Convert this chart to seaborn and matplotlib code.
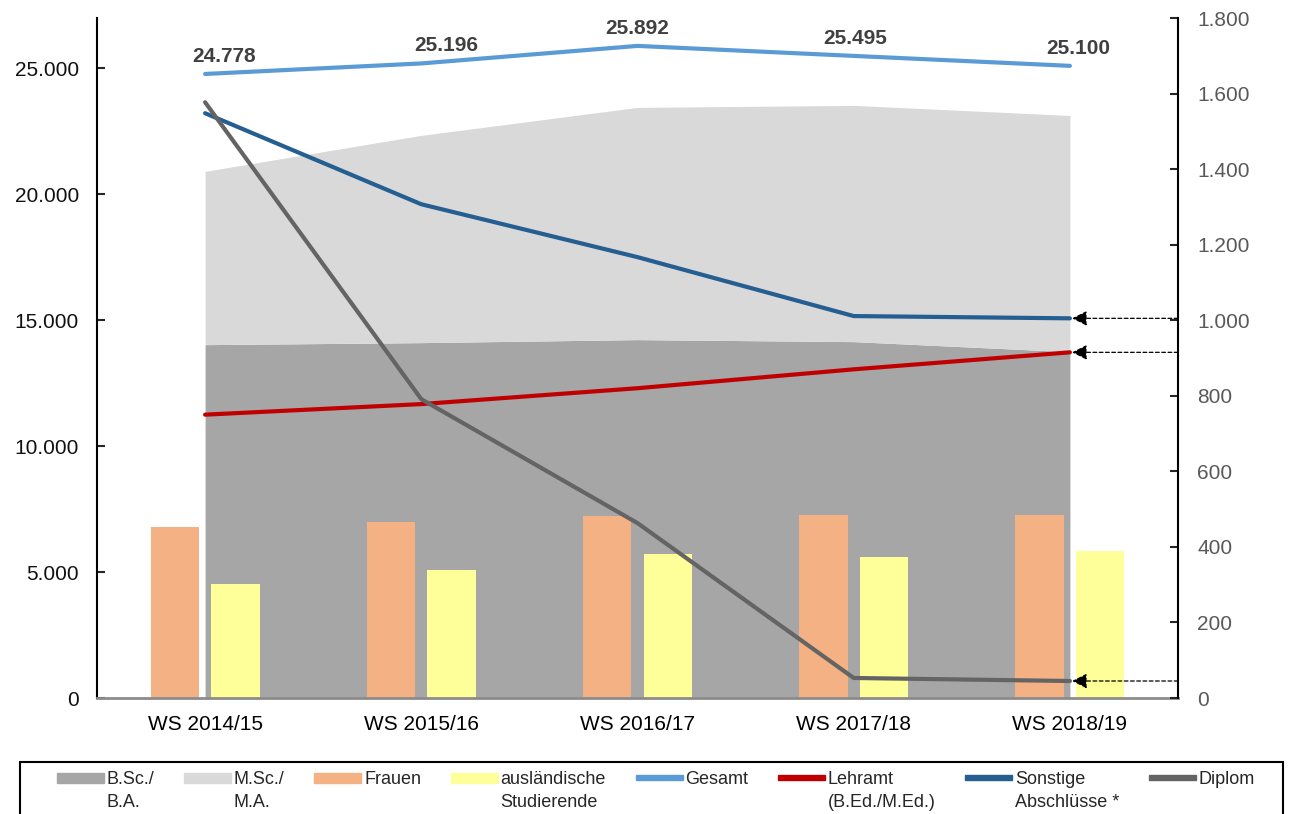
import pandas as pd
import matplotlib.pyplot as plt
import matplotlib.ticker as mticker
from matplotlib.patches import Patch, Rectangle
from matplotlib.legend_handler import HandlerPatch
import seaborn as sns

# data
semester = ['WS 2014/15', 'WS 2015/16', 'WS 2016/17', 'WS 2017/18', 'WS 2018/19']
bsc_ba = [14030, 14110, 14230, 14150, 13750]
msc_ma = [6880, 8230, 9220, 9380, 9380]
frauen = [6800, 7000, 7230, 7270, 7270]
auslaendisch = [4530, 5090, 5720, 5600, 5840]
gesamt = [24778, 25196, 25892, 25495, 25100]
# right axis
lehramt = [750, 778, 820, 870, 915]
sonstige = [1548, 1307, 1167, 1011, 1005]
diplom = [1577, 791, 463, 53, 45]

c_bsc = '#A6A6A6'
c_msc = '#D9D9D9'
c_frauen = '#F4B183'
c_ausl = '#FFFF99'
c_gesamt = '#5B9BD5'
c_lehramt = '#C00000'
c_sonst = '#255E91'
c_diplom = '#646464'

sns.set_style('white')
plt.rcParams['font.family'] = ['Liberation Sans', 'DejaVu Sans']

fig = plt.figure(figsize=(12.93, 8.14), dpi=100)
ax = fig.add_axes([97 / 1293, 1 - 698 / 814, (1178 - 97) / 1293, (698 - 18) / 814])

x = list(range(len(semester)))

# stacked areas
ax.stackplot(x, bsc_ba, msc_ma, colors=[c_bsc, c_msc], linewidth=0, zorder=1)

# bars
bars = pd.DataFrame({
    'Semester': semester * 2,
    'Wert': frauen + auslaendisch,
    'Gruppe': ['Frauen'] * 5 + ['ausländische Studierende'] * 5,
})
sns.barplot(data=bars, x='Semester', y='Wert', hue='Gruppe', order=semester,
            palette=[c_frauen, c_ausl], width=0.56, gap=0.2, dodge=True,
            legend=False, ax=ax, zorder=2, saturation=1, linewidth=0)

# Gesamt line on left axis
sns.lineplot(x=x, y=gesamt, color=c_gesamt, lw=3, ax=ax, zorder=3)
label_dx = [14, 18, 0, 1, 6]
for i, v in enumerate(gesamt):
    ax.annotate(f'{v:,}'.replace(',', '.'), (i, v), xytext=(label_dx[i], 6),
                textcoords='offset points', ha='center', va='bottom',
                fontsize=15, fontweight='bold', color='#404040')

ax.set_xlim(-0.5, 4.5)
ax.set_ylim(0, 27000)
ax.set_yticks(range(0, 25001, 5000))
ax.yaxis.set_major_formatter(mticker.FuncFormatter(lambda v, p: f'{int(v):,}'.replace(',', '.')))
ax.set_xlabel('')
ax.set_ylabel('')
ax.set_xticks(x)
ax.set_xticklabels(semester)
ax.set_xticks([0.5, 1.5, 2.5, 3.5], minor=True)
ax.tick_params(axis='x', which='major', length=0, pad=12, labelsize=15, labelcolor='black')
ax.tick_params(axis='x', which='minor', direction='in', length=4, color='#e6e6e6', width=1)
ax.tick_params(axis='y', direction='in', length=6, width=1.5, pad=13, labelsize=15,
               labelcolor='#111111', left=True)
ax.spines['top'].set_visible(False)
ax.spines['right'].set_visible(False)
ax.spines['left'].set_color('black')
ax.spines['left'].set_linewidth(1.5)
ax.spines['bottom'].set_color('#8c8c8c')
ax.spines['bottom'].set_linewidth(2)

# right axis lines
ax2 = ax.twinx()
sns.lineplot(x=x, y=lehramt, color=c_lehramt, lw=3, ax=ax2)
sns.lineplot(x=x, y=sonstige, color=c_sonst, lw=3, ax=ax2)
sns.lineplot(x=x, y=diplom, color=c_diplom, lw=3, ax=ax2)
ax2.set_ylim(0, 1800)
ax2.set_yticks(range(0, 1801, 200))
ax2.yaxis.set_major_formatter(mticker.FuncFormatter(lambda v, p: f'{int(v):,}'.replace(',', '.')))
ax2.tick_params(axis='y', direction='in', length=6, width=1.5, pad=14, labelsize=15,
                labelcolor='#595959', right=True)
ax2.set_xlim(-0.5, 4.5)
for s in ['top', 'left', 'bottom']:
    ax2.spines[s].set_visible(False)
ax2.spines['right'].set_color('black')
ax2.spines['right'].set_linewidth(1.5)

# dashed arrows from the right axis to the last values
for v in [sonstige[-1], lehramt[-1], diplom[-1]]:
    ax2.annotate('', xy=(4.01, v), xytext=(4.5, v),
                 arrowprops=dict(arrowstyle='-|>,head_length=0.9,head_width=0.45',
                                 ls=(0, (3, 2)), lw=0.9, color='black',
                                 shrinkA=0, shrinkB=0))


# legend handles sit at the height of the first text line
def top_handle(thick):
    def make(legend, orig_handle, xdescent, ydescent, width, height, fontsize):
        yc = -ydescent + height
        return Rectangle((-xdescent, yc - thick / 2), width, thick)
    return HandlerPatch(patch_func=make)


handles = [Patch(color=c) for c in [c_bsc, c_msc, c_frauen, c_ausl,
                                    c_gesamt, c_lehramt, c_sonst, c_diplom]]
labels = ['B.Sc./\nB.A.', 'M.Sc./\nM.A.', 'Frauen\n', 'ausländische\nStudierende',
          'Gesamt\n', 'Lehramt\n(B.Ed./M.Ed.)', 'Sonstige\nAbschlüsse *', 'Diplom\n']
hmap = {h: top_handle(7 if i < 4 else 3.5) for i, h in enumerate(handles)}
leg = fig.legend(handles, labels, loc='upper left', handler_map=hmap,
                 bbox_to_anchor=(48 / 1293, 52 / 814, (1264 - 48) / 1293, 0), mode='expand',
                 ncol=8, frameon=False, fontsize=13,
                 handlelength=2.6, handleheight=2.0, handletextpad=0.15,
                 borderaxespad=0, borderpad=0.5)
for t in leg.get_texts():
    t.set_linespacing(1.45)

# legend box
fig.patches.append(Rectangle((20 / 1293, -0.01), 1263 / 1293, 52 / 814 + 0.01,
                             transform=fig.transFigure, fill=False,
                             edgecolor='black', linewidth=1.5))

fig.savefig('out.png', dpi=100)
